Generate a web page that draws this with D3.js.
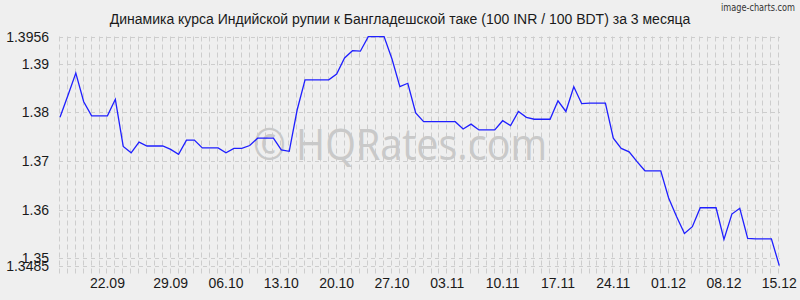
<!DOCTYPE html>
<html>
<head>
<meta charset="utf-8">
<script src="https://cdn.jsdelivr.net/npm/d3@7"></script>
<style>
  body { margin: 0; background: #efefef; }
  svg { display: block; font-family: "Liberation Sans", Arial, sans-serif; }
</style>
</head>
<body>
<div id="chart"></div>
<script>
// rates, one per day point
var rates = [
  1.3790, 1.3835, 1.3881, 1.3822, 1.3793, 1.3793, 1.3793, 1.3827, 1.3730, 1.3717,
  1.3739, 1.3731, 1.3731, 1.3731, 1.3724, 1.3714, 1.3743, 1.3743, 1.3727, 1.3727,
  1.3727, 1.3717, 1.3726, 1.3726, 1.3732, 1.3747, 1.3747, 1.3747, 1.3723, 1.3720,
  1.3805, 1.3867, 1.3867, 1.3867, 1.3867, 1.3879, 1.3912, 1.3927, 1.3926, 1.3956,
  1.3956, 1.3956, 1.3910, 1.3853, 1.3860, 1.3799, 1.3781, 1.3781, 1.3781, 1.3781,
  1.3781, 1.3766, 1.3776, 1.3764, 1.3764, 1.3764, 1.3783, 1.3773, 1.3802, 1.3790,
  1.3786, 1.3786, 1.3786, 1.3824, 1.3802, 1.3853, 1.3818, 1.3819, 1.3819, 1.3819,
  1.3747, 1.3726, 1.3719, 1.3699, 1.3680, 1.3680, 1.3680, 1.3624, 1.3586, 1.3551,
  1.3565, 1.3604, 1.3604, 1.3604, 1.3539, 1.3591, 1.3603, 1.3541, 1.3540, 1.3540,
  1.3540, 1.3485
];
var dateLabels = ["22.09","29.09","06.10","13.10","20.10","27.10","03.11","10.11","17.11","24.11","01.12","08.12","15.12"];
var dateIdx    = [6, 14, 21, 28, 35, 42, 49, 56, 63, 70, 77, 84, 91];
var yTicks     = [1.35, 1.36, 1.37, 1.38, 1.39];
var yMin = 1.3485, yMax = 1.3956;
var title = "Динамика курса Индийской рупии к Бангладешской таке (100 INR / 100 BDT) за 3 месяца";

var W = 800, H = 300;
var svg = d3.select("#chart").append("svg").attr("width", W).attr("height", H);
svg.append("rect").attr("width", W).attr("height", H).attr("fill", "#efefef");

var x = d3.scaleLinear().domain([0, rates.length - 1]).range([60, 779.3]);
var y = d3.scaleLinear().domain([yMin, yMax]).range([265.6, 36.6]);

// grid - vertical dashed, one per point
var grid = svg.append("g").attr("stroke", "#cdcdcd").attr("stroke-width", 1).attr("fill", "none");
grid.selectAll("line.v").data(d3.range(rates.length)).enter().append("line")
  .attr("class", "v")
  .attr("x1", function(d) { return Math.round(x(d)) - 0.5; })
  .attr("x2", function(d) { return Math.round(x(d)) - 0.5; })
  .attr("y1", 36.5).attr("y2", 276)
  .attr("stroke-dasharray", "5,3");

// horizontal lines at ticks and at min/max
var hVals = [yMin, yMax].concat(yTicks);
grid.selectAll("line.h").data(hVals).enter().append("line")
  .attr("class", "h")
  .attr("x1", 59).attr("x2", 780)
  .attr("y1", function(d) { return Math.round(y(d)) + 0.5; })
  .attr("y2", function(d) { return Math.round(y(d)) + 0.5; })
  .attr("stroke-dasharray", "4,4");

// watermark
svg.append("text")
  .attr("x", 253).attr("y", 160)
  .attr("font-family", "'Open Sans', Arial, sans-serif")
  .attr("font-size", 43)
  .attr("fill", "#c9c9c9")
  .attr("textLength", 294)
  .attr("lengthAdjust", "spacingAndGlyphs")
  .text("© HQRates.com");

// the line
var line = d3.line()
  .x(function(d, i) { return x(i); })
  .y(function(d) { return y(d); });
svg.append("path").datum(rates)
  .attr("d", line)
  .attr("fill", "none")
  .attr("stroke", "#1f1fff")
  .attr("stroke-width", 1.3);

// y labels
var yLab = svg.append("g").attr("font-size", 14).attr("fill", "#1a1a1a").attr("text-anchor", "end");
yLab.selectAll("text").data(yTicks.concat([yMax, yMin])).enter().append("text")
  .attr("x", 49)
  .attr("y", function(d) { return y(d); })
  .attr("dy", "0.36em")
  .text(function(d) { return d === yMax || d === yMin ? d.toFixed(4) : d.toFixed(2); });

// x labels
var xLab = svg.append("g").attr("font-size", 14).attr("fill", "#1a1a1a").attr("text-anchor", "middle");
xLab.selectAll("text").data(dateLabels).enter().append("text")
  .attr("x", function(d, i) { return x(dateIdx[i]); })
  .attr("y", 288)
  .text(function(d) { return d; });

// title
svg.append("text")
  .attr("x", 400).attr("y", 24)
  .attr("text-anchor", "middle")
  .attr("font-size", 14)
  .attr("fill", "#1a1a1a")
  .text(title);

// brand
svg.append("text")
  .attr("x", 721).attr("y", 11)
  .attr("font-family", "'DejaVu Sans Condensed', 'DejaVu Sans', sans-serif")
  .attr("font-size", 10.5)
  .attr("fill", "#333")
  .attr("textLength", 74)
  .attr("lengthAdjust", "spacingAndGlyphs")
  .text("image-charts.com");
</script>
</body>
</html>
